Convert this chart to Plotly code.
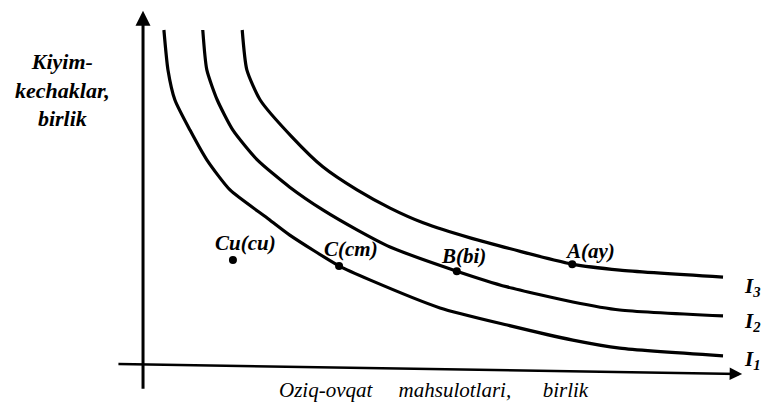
import plotly.graph_objects as go

# Indifference curves (food units on x, clothing units on y)
i1_x = [0.36, 0.43, 0.55, 0.81, 1.10, 1.50, 2.14, 2.53, 3.38, 3.91, 5.12, 6.28, 7.41, 8.22, 10.0]
i1_y = [9.60, 8.46, 7.60, 6.74, 5.89, 5.03, 4.23, 3.74, 2.86, 2.46, 1.66, 1.17, 0.74, 0.51, 0.29]

i2_x = [1.03, 1.10, 1.28, 1.55, 1.97, 2.53, 3.10, 3.69, 4.26, 5.41, 6.28, 7.41, 8.22, 10.0]
i2_y = [9.60, 8.46, 7.60, 6.74, 5.89, 5.11, 4.46, 3.89, 3.40, 2.71, 2.26, 1.83, 1.60, 1.43]

i3_x = [1.71, 1.79, 2.02, 2.57, 3.10, 3.69, 4.26, 4.83, 5.64, 7.40, 8.22, 10.0]
i3_y = [9.60, 8.46, 7.60, 6.54, 5.69, 5.03, 4.51, 4.09, 3.66, 2.91, 2.74, 2.54]

curve_names = ["I<sub>1</sub>", "I<sub>2</sub>", "I<sub>3</sub>"]

# Points
point_labels = ["Cu(cu)", "C(cm)", "B(bi)", "A(ay)"]
point_x = [1.55, 3.38, 5.41, 7.40]
point_y = [3.03, 2.86, 2.71, 2.91]
label_x = [1.76, 3.59, 5.53, 7.71]
label_y = [3.51, 3.34, 3.14, 3.29]

y_title = "Kiyim-<br>kechaklar,<br>birlik"
NB = "\u00a0"
x_title = "Oziq-ovqat" + NB * 5 + "mahsulotlari," + NB * 6 + "birlik"

SERIF = "Liberation Serif"

fig = go.Figure()
for xs, ys in [(i1_x, i1_y), (i2_x, i2_y), (i3_x, i3_y)]:
    fig.add_trace(go.Scatter(x=xs, y=ys, mode="lines",
                             line=dict(color="black", width=3.2, shape="spline", smoothing=0.6),
                             hoverinfo="skip", showlegend=False))

fig.add_trace(go.Scatter(x=point_x, y=point_y, mode="markers",
                         marker=dict(color="black", size=8),
                         hoverinfo="skip", showlegend=False))

annotations = []
for t, lx, ly in zip(point_labels, label_x, label_y):
    annotations.append(dict(x=lx, y=ly, text="<b><i>" + t + "</i></b>", showarrow=False,
                            font=dict(family=SERIF, size=21, color="black")))

# curve labels at right end
curve_label_y = [0.17, 1.26, 2.26]
for name, ly in zip(curve_names, curve_label_y):
    annotations.append(dict(x=10.5, y=ly, text="<b><i>" + name + "</i></b>", showarrow=False,
                            font=dict(family=SERIF, size=21, color="black")))

# axes as arrows
annotations.append(dict(x=0, y=10.15, ax=0, ay=-0.69, axref="x", ayref="y", xref="x", yref="y",
                        text="", showarrow=True, arrowhead=2, arrowsize=1.0, arrowwidth=3,
                        arrowcolor="black", standoff=0))
annotations.append(dict(x=10.33, y=-0.23, ax=-0.45, ay=0.06, axref="x", ayref="y", xref="x", yref="y",
                        text="", showarrow=True, arrowhead=2, arrowsize=1.0, arrowwidth=2.5,
                        arrowcolor="black", standoff=0))

# axis titles
annotations.append(dict(x=-1.38, y=7.89, text="<b><i>" + y_title + "</i></b>", showarrow=False,
                        align="center", font=dict(family=SERIF, size=22, color="black")))
annotations.append(dict(x=5.02, y=-0.68, text="<i>" + x_title + "</i>", showarrow=False,
                        font=dict(family=SERIF, size=21, color="black")))

fig.update_layout(
    width=766, height=403,
    margin=dict(l=0, r=0, t=0, b=0),
    paper_bgcolor="white", plot_bgcolor="white",
    xaxis=dict(range=[-2.466, 10.741], visible=False, fixedrange=True),
    yaxis=dict(range=[-1.057, 10.457], visible=False, fixedrange=True),
    annotations=annotations,
    showlegend=False,
)

fig.write_html("out.html", config={"displayModeBar": False},
               post_script="document.body.style.margin='0';document.body.style.overflow='hidden';")
